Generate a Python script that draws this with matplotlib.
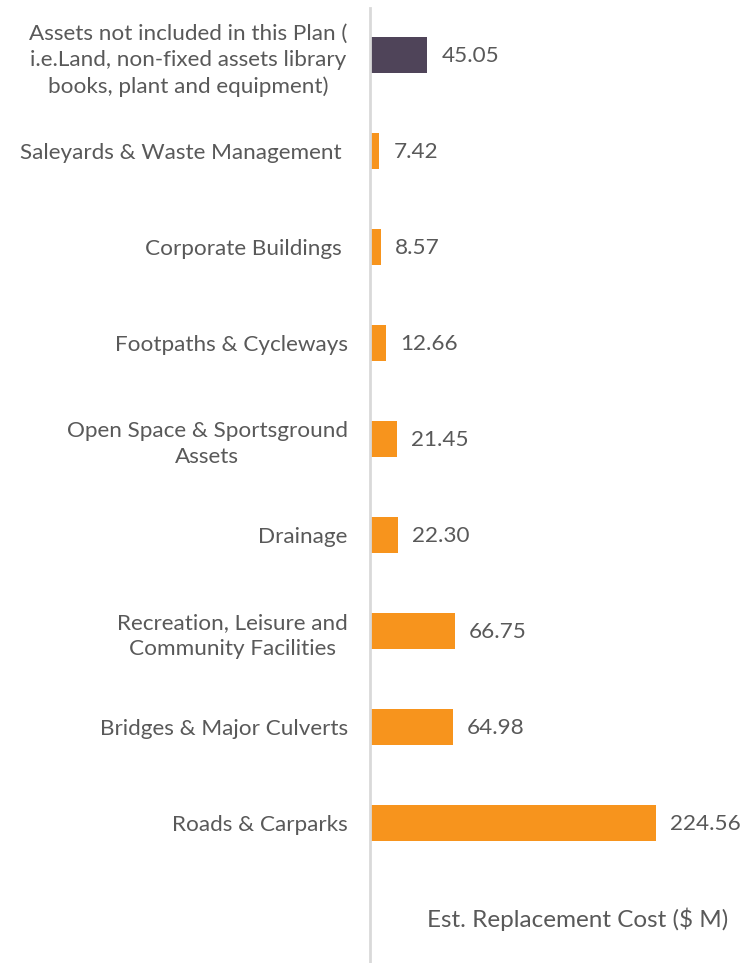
import matplotlib.pyplot as plt

categories = [
    "Assets not included in this Plan (\ni.e.Land, non-fixed assets library\nbooks, plant and equipment)",
    "Saleyards & Waste Management ",
    "Corporate Buildings ",
    "Footpaths & Cycleways",
    "Open Space & Sportsground\nAssets",
    "Drainage",
    "Recreation, Leisure and\nCommunity Facilities",
    "Bridges & Major Culverts",
    "Roads & Carparks",
]
values = [45.05, 7.42, 8.57, 12.66, 21.45, 22.30, 66.75, 64.98, 224.56]
colors = ["#4f4459"] + ["#f7941d"] * 8
axis_title = "Est. Replacement Cost ($ M)"

text_color = "#595959"
plt.rcParams['font.family'] = ['Lato', 'DejaVu Sans']
fs = 16.2

fig = plt.figure(figsize=(7.52, 9.63), dpi=100)
ax = fig.add_axes([370 / 752, 0, 1 - 370 / 752, 1 - 8 / 963])

pos = list(range(len(categories)))
ax.barh(pos, values, height=0.375, color=colors)

for p, v in zip(pos, values):
    ax.annotate(f"{v:.2f}", xy=(v, p), xytext=(10, -1), textcoords="offset points",
                ha="left", va="center", fontsize=fs, color=text_color)

ax.set_yticks(pos)
ax.set_yticklabels(categories, fontsize=fs, color=text_color, ha="right",
                   multialignment="center", linespacing=1.38)
ax.tick_params(axis="y", length=0, pad=16)
ax.set_xticks([])

ax.set_ylim(9.46, -0.49)
ax.set_xlim(0, 300)

# axis title sits in the empty slot under the last bar
ax.text(281, 9.0, axis_title, ha="right", va="center", fontsize=17.5,
        color=text_color)

for s in ["top", "right", "bottom"]:
    ax.spines[s].set_visible(False)
ax.spines["left"].set_color("#d9d9d9")
ax.spines["left"].set_linewidth(2)

fig.savefig("out.png", dpi=100)
